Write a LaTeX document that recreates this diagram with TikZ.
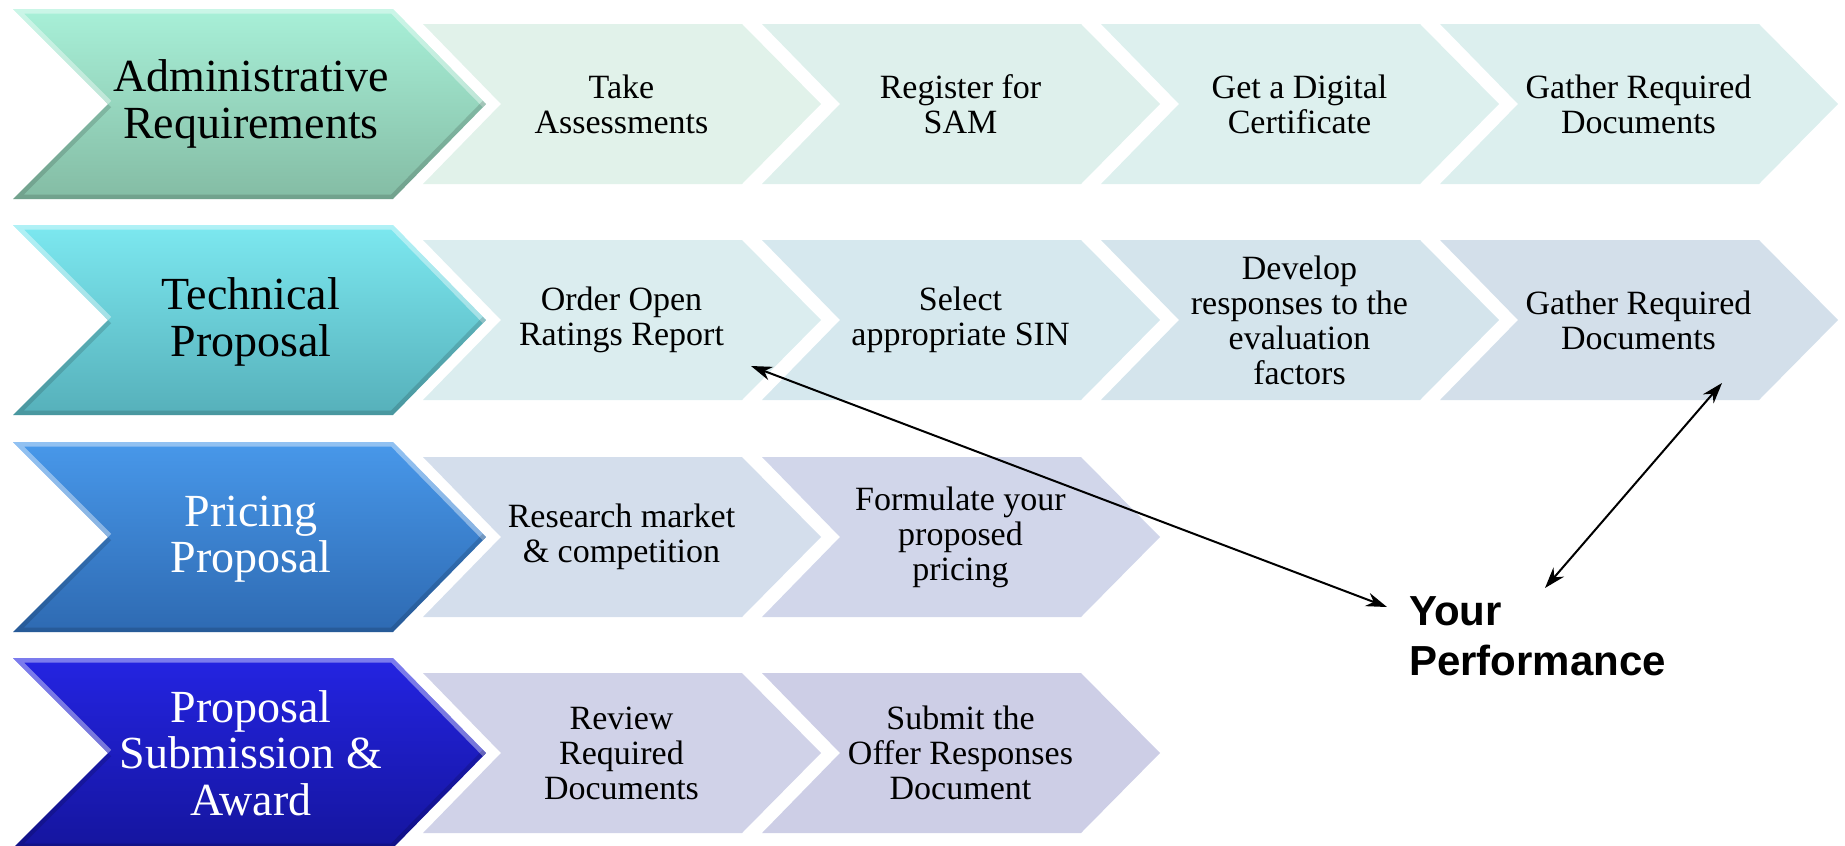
\documentclass[tikz,border=0pt]{standalone}
\usepackage{fontspec}
\setmainfont{Liberation Serif}
\newfontfamily\perffont{Liberation Sans}
\usetikzlibrary{arrows.meta}

% main stage colours (top / bottom of the gradient)
\definecolor{adminTop}{HTML}{A8F0D8}
\definecolor{adminBot}{HTML}{84BCA4}
\definecolor{techTop}{HTML}{7CE8F0}
\definecolor{techBot}{HTML}{56B0BA}
\definecolor{priceTop}{HTML}{4898EA}
\definecolor{priceBot}{HTML}{2E6AB2}
\definecolor{awardTop}{HTML}{2424E2}
\definecolor{awardBot}{HTML}{15159E}
% step colours
\definecolor{sA1}{HTML}{E1F2EA}
\definecolor{sA2}{HTML}{DEF0EC}
\definecolor{sA3}{HTML}{DDF0EE}
\definecolor{sA4}{HTML}{DCEFEE}
\definecolor{sB1}{HTML}{DBEDEF}
\definecolor{sB2}{HTML}{D6E8EE}
\definecolor{sB3}{HTML}{D4E4EC}
\definecolor{sB4}{HTML}{D3DFEA}
\definecolor{sC1}{HTML}{D4DEEC}
\definecolor{sC2}{HTML}{D1D6EA}
\definecolor{sD1}{HTML}{D0D2E8}
\definecolor{sD2}{HTML}{CDCEE6}

\tikzset{
  stagetext/.style={align=center, font=\fontsize{46}{46.5}\selectfont, inner sep=0pt},
  steptext/.style={align=center, font=\fontsize{34}{35}\selectfont, inner sep=0pt, text=black},
  perftext/.style={align=left, font=\perffont\bfseries\fontsize{42}{50}\selectfont, inner sep=0pt},
  link/.style={line width=2pt, {Stealth[length=21pt,width=14pt]}-{Stealth[length=21pt,width=14pt]}},
  bevellight/.style={draw=white, draw opacity=0.4, line width=9pt, line join=miter},
  beveldark/.style={draw=black, draw opacity=0.14, line width=9pt, line join=miter}
}

% big stage chevron with a soft bevel: #1 top y, #2 top colour, #3 bottom colour
\newcommand\stagechevron[3]{%
  \begin{scope}
    \clip (13,#1) -- (393,#1) -- (486,#1+95) -- (393,#1+190) -- (13,#1+190) -- (108,#1+95) -- cycle;
    \shade[top color=#2, bottom color=#3] (0,#1) rectangle (500,#1+190);
    \draw[bevellight] (108,#1+95) -- (13,#1) -- (393,#1) -- (486,#1+95);
    \draw[beveldark]  (486,#1+95) -- (393,#1+190) -- (13,#1+190) -- (108,#1+95);
  \end{scope}
}
% step chevron: #1 left x, #2 centre y, #3 colour
\newcommand\stepchevron[3]{%
  \fill[#3] (#1,#2-80) -- (#1+319,#2-80) -- (#1+398,#2) -- (#1+319,#2+80)
    -- (#1,#2+80) -- (#1+78,#2) -- cycle;
}

\begin{document}
\begin{tikzpicture}[x=1pt,y=-1pt]
\useasboundingbox (0,0) rectangle (1845,846);

% ---------- stage chevrons ----------
\stagechevron{9}{adminTop}{adminBot}
\stagechevron{225}{techTop}{techBot}
\stagechevron{442}{priceTop}{priceBot}
\stagechevron{658}{awardTop}{awardBot}

% ---------- step chevrons ----------
\stepchevron{423}{104}{sA1}
\stepchevron{762}{104}{sA2}
\stepchevron{1101}{104}{sA3}
\stepchevron{1440}{104}{sA4}

\stepchevron{423}{320}{sB1}
\stepchevron{762}{320}{sB2}
\stepchevron{1101}{320}{sB3}
\stepchevron{1440}{320}{sB4}

\stepchevron{423}{537}{sC1}
\stepchevron{762}{537}{sC2}

\stepchevron{423}{753}{sD1}
\stepchevron{762}{753}{sD2}

% ---------- stage labels ----------
\node[stagetext, text=black] (admin) at (251,104) {Administrative\\Requirements};
\node[stagetext, text=black] (tech)  at (251,322) {Technical\\Proposal};
\node[stagetext, text=white] (price) at (251,539) {Pricing\\Proposal};
\node[stagetext, text=white] (award) at (251,753) {Proposal\\Submission \&\\Award};

% ---------- step labels ----------
\node[steptext] (a1) at (621.5,104) {Take\\Assessments};
\node[steptext] (a2) at (960.5,104) {Register for\\SAM};
\node[steptext] (a3) at (1299.5,104) {Get a Digital\\Certificate};
\node[steptext] (a4) at (1638.5,104) {Gather Required\\Documents};

\node[steptext] (b1) at (621.5,320) {Order Open\\Ratings Report};
\node[steptext] (b2) at (960.5,320) {Select\\appropriate SIN};
\node[steptext] (b3) at (1299.5,320) {Develop\\responses to the\\evaluation\\factors};
\node[steptext] (b4) at (1638.5,320) {Gather Required\\Documents};

\node[steptext] (c1) at (621.5,537) {Research market\\\& competition};
\node[steptext] (c2) at (960.5,537) {Formulate your\\proposed\\pricing};

\node[steptext] (d1) at (621.5,753) {Review\\Required\\Documents};
\node[steptext] (d2) at (960.5,753) {Submit the\\Offer Responses\\Document};

% ---------- performance label and links ----------
\node[perftext, anchor=west] (perf) at (1409,636) {Your\\Performance};

\coordinate (ratingsEnd) at (751,366);
\coordinate (perfLeft)   at (1387,607);
\coordinate (gatherEnd)  at (1722,383);
\coordinate (perfTop)    at (1545,588);

\draw[link] (ratingsEnd) -- (perfLeft);
\draw[link] (gatherEnd) -- (perfTop);
\end{tikzpicture}
\end{document}
